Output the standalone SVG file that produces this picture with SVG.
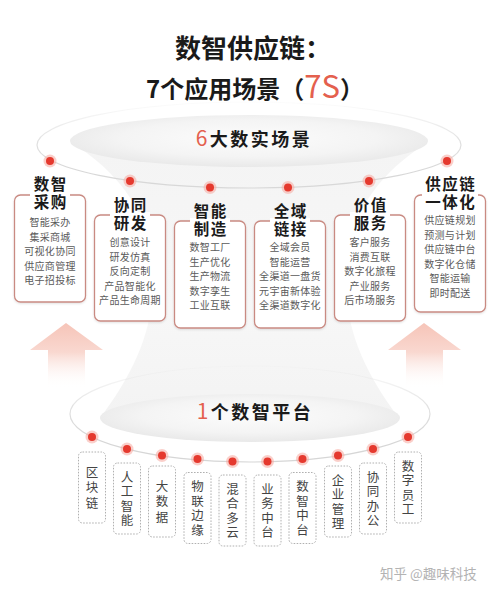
<svg xmlns="http://www.w3.org/2000/svg" xmlns:xlink="http://www.w3.org/1999/xlink" width="500" height="594" viewBox="0 0 500 594">
<style>
text{font-family:"Noto Sans CJK SC","Noto Sans",sans-serif}
.h1{font-size:26px;font-weight:700;fill:#1a1a1a}
.h2{font-size:24px;font-weight:700;fill:#1a1a1a}
.red{fill:#e4604e}
.sec{font-size:18px;font-weight:700;fill:#1a1a1a;letter-spacing:2.5px}
.ct{font-size:15.5px;font-weight:700;fill:#1a1a1a;text-anchor:middle;letter-spacing:1.5px}
.it{font-size:10px;fill:#5a5a5a;text-anchor:middle;letter-spacing:0.3px}
.card{fill:#fff;stroke:#c98a82;stroke-width:1.3}
.pb{fill:#fff;stroke:#b0b0b0;stroke-width:1;stroke-dasharray:1.6 1.4}
.pt{font-size:12.5px;fill:#444;text-anchor:middle;writing-mode:vertical-rl;letter-spacing:2px}
.p3{letter-spacing:3px}
.wm{font-size:13.5px;fill:#b3b3b3}
</style>
<defs>
<radialGradient id="disc" cx="0.5" cy="0.45" r="0.55">
<stop offset="0" stop-color="#fcfcfc"/>
<stop offset="0.65" stop-color="#f4f4f4"/>
<stop offset="1" stop-color="#e9e9e9"/>
</radialGradient>
<linearGradient id="funnel" x1="0" y1="0" x2="0" y2="1">
<stop offset="0" stop-color="#f4f4f4"/>
<stop offset="0.6" stop-color="#f7f7f7"/>
<stop offset="1" stop-color="#f3f3f3"/>
</linearGradient>
<linearGradient id="ringTop" gradientUnits="userSpaceOnUse" x1="0" y1="102" x2="0" y2="170">
<stop offset="0" stop-color="#e2e2e2" stop-opacity="0.1"/>
<stop offset="0.6" stop-color="#dcdcdc" stop-opacity="0.9"/>
<stop offset="1" stop-color="#d8d8d8"/>
</linearGradient>
<linearGradient id="ringBot" gradientUnits="userSpaceOnUse" x1="0" y1="366" x2="0" y2="440">
<stop offset="0" stop-color="#e2e2e2" stop-opacity="0.1"/>
<stop offset="0.6" stop-color="#dcdcdc" stop-opacity="0.9"/>
<stop offset="1" stop-color="#d6d6d6"/>
</linearGradient>
<linearGradient id="arrow" gradientUnits="userSpaceOnUse" x1="0" y1="323" x2="0" y2="388">
<stop offset="0" stop-color="#f6c4b8"/>
<stop offset="0.45" stop-color="#f9d8d0"/>
<stop offset="1" stop-color="#ffffff" stop-opacity="0"/>
</linearGradient>
<filter id="sh" x="-20%" y="-20%" width="140%" height="140%">
<feDropShadow dx="0" dy="1" stdDeviation="1.2" flood-color="#000" flood-opacity="0.12"/>
</filter>
<g id="dot">
<circle r="6.5" fill="#f6a89e" opacity="0.55"/>
<circle r="4" fill="#e5392e"/>
</g>
</defs>
<rect width="500" height="594" fill="#fff"/>

<g id="background">
<path d="M80 148 C140 190 158 240 152 300 C148 345 125 385 100 418 L399 418 C374 385 351 345 347 300 C341 240 359 190 419 148 Z" fill="url(#funnel)"/>
<ellipse cx="249" cy="141" rx="179" ry="26" fill="url(#disc)"/>
<ellipse cx="250" cy="418" rx="150" ry="24" fill="url(#disc)"/>
<path d="M66 323 L103 350 L85 350 L85 388 L48 388 L48 350 L30 350 Z" fill="url(#arrow)"/>
<path d="M424 323 L461 350 L443 350 L443 388 L406 388 L406 350 L388 350 Z" fill="url(#arrow)"/>
</g>

<g id="title">
<text class="h1" x="253" y="58" text-anchor="middle">数智供应链：</text>
<text class="h2" x="255" y="98" text-anchor="middle">7个应用场景（<tspan class="red" font-size="31" font-weight="400">7S</tspan>）</text>
<text class="sec" x="254" y="146" text-anchor="middle"><tspan class="red" font-size="21" font-weight="400">6</tspan>大数实场景</text>
<text class="sec" x="255" y="419" text-anchor="middle"><tspan class="red" font-size="21" font-weight="400">1</tspan>个数智平台</text>
</g>

<g id="connectors">
<ellipse cx="249" cy="145" rx="212" ry="43" fill="none" stroke="url(#ringTop)" stroke-width="1.2"/>
<ellipse cx="250" cy="414" rx="180" ry="48" fill="none" stroke="url(#ringBot)" stroke-width="1.2"/>
<use xlink:href="#dot" x="50" y="161"/>
<use xlink:href="#dot" x="130" y="181"/>
<use xlink:href="#dot" x="210" y="187.5"/>
<use xlink:href="#dot" x="288" y="187.5"/>
<use xlink:href="#dot" x="369" y="181"/>
<use xlink:href="#dot" x="447" y="161"/>
<use xlink:href="#dot" x="92" y="437"/>
<use xlink:href="#dot" x="127" y="449"/>
<use xlink:href="#dot" x="162" y="455.5"/>
<use xlink:href="#dot" x="197.5" y="459"/>
<use xlink:href="#dot" x="232.5" y="461.5"/>
<use xlink:href="#dot" x="267.5" y="461.5"/>
<use xlink:href="#dot" x="302.5" y="459"/>
<use xlink:href="#dot" x="338" y="455.5"/>
<use xlink:href="#dot" x="373" y="449"/>
<use xlink:href="#dot" x="408" y="437"/>
</g>

<g id="card1">
<rect class="card" x="14.5" y="195" width="71" height="107" rx="6" filter="url(#sh)"/>
<rect x="30" y="192" width="40" height="6" fill="#fff"/>
<text class="ct" x="50.75" y="190">数智</text>
<text class="ct" x="50.75" y="208">采购</text>
<text class="it" x="50" y="226">智能采办</text>
<text class="it" x="50" y="240.5">集采商城</text>
<text class="it" x="50" y="255">可视化协同</text>
<text class="it" x="50" y="269.5">供应商管理</text>
<text class="it" x="50" y="284">电子招投标</text>
</g>

<g id="card2">
<rect class="card" x="94.5" y="215" width="71" height="106" rx="6" filter="url(#sh)"/>
<rect x="110" y="212" width="40" height="6" fill="#fff"/>
<text class="ct" x="130.75" y="211">协同</text>
<text class="ct" x="130.75" y="229">研发</text>
<text class="it" x="130" y="246">创意设计</text>
<text class="it" x="130" y="260.5">研发仿真</text>
<text class="it" x="130" y="275">反向定制</text>
<text class="it" x="130" y="289.5">产品智能化</text>
<text class="it" x="130" y="304">产品生命周期</text>
</g>

<g id="card3">
<rect class="card" x="174.5" y="221" width="71" height="107" rx="6" filter="url(#sh)"/>
<rect x="190" y="218" width="40" height="6" fill="#fff"/>
<text class="ct" x="210.75" y="217">智能</text>
<text class="ct" x="210.75" y="235">制造</text>
<text class="it" x="210" y="251">数智工厂</text>
<text class="it" x="210" y="265.5">生产优化</text>
<text class="it" x="210" y="280">生产物流</text>
<text class="it" x="210" y="294.5">数字孪生</text>
<text class="it" x="210" y="309">工业互联</text>
</g>

<g id="card4">
<rect class="card" x="254.5" y="221" width="71" height="107" rx="6" filter="url(#sh)"/>
<rect x="270" y="218" width="40" height="6" fill="#fff"/>
<text class="ct" x="290.75" y="217">全域</text>
<text class="ct" x="290.75" y="235">链接</text>
<text class="it" x="290" y="251">全域会员</text>
<text class="it" x="290" y="265.5">智能运营</text>
<text class="it" x="290" y="280">全渠道一盘货</text>
<text class="it" x="290" y="294.5">元宇宙新体验</text>
<text class="it" x="290" y="309">全渠道数字化</text>
</g>

<g id="card5">
<rect class="card" x="334.5" y="215" width="71" height="106" rx="6" filter="url(#sh)"/>
<rect x="350" y="212" width="40" height="6" fill="#fff"/>
<text class="ct" x="370.75" y="211">价值</text>
<text class="ct" x="370.75" y="229">服务</text>
<text class="it" x="370" y="246">客户服务</text>
<text class="it" x="370" y="260.5">消费互联</text>
<text class="it" x="370" y="275">数字化旅程</text>
<text class="it" x="370" y="289.5">产业服务</text>
<text class="it" x="370" y="304">后市场服务</text>
</g>

<g id="card6">
<rect class="card" x="414.5" y="195" width="71" height="117" rx="6" filter="url(#sh)"/>
<rect x="422" y="192" width="56" height="6" fill="#fff"/>
<text class="ct" x="450.75" y="190">供应链</text>
<text class="ct" x="450.75" y="208">一体化</text>
<text class="it" x="450" y="224">供应链规划</text>
<text class="it" x="450" y="238.5">预测与计划</text>
<text class="it" x="450" y="253">供应链中台</text>
<text class="it" x="450" y="267.5">数字化仓储</text>
<text class="it" x="450" y="282">智能运输</text>
<text class="it" x="450" y="296.5">即时配送</text>
</g>

<g id="p1"><rect class="pb" x="78.5" y="452" width="27" height="71" rx="4"/>
<text class="pt p3" x="92" y="489">区块链</text></g>
<g id="p2"><rect class="pb" x="113.5" y="463" width="27" height="71" rx="4"/>
<text class="pt" x="127" y="499.5">人工智能</text></g>
<g id="p3"><rect class="pb" x="148.5" y="466" width="27" height="71" rx="4"/>
<text class="pt p3" x="162" y="503">大数据</text></g>
<g id="p4"><rect class="pb" x="184" y="472.5" width="27" height="71" rx="4"/>
<text class="pt" x="197.5" y="509">物联边缘</text></g>
<g id="p5"><rect class="pb" x="219" y="475" width="27" height="71" rx="4"/>
<text class="pt" x="232.5" y="511.5">混合多云</text></g>
<g id="p6"><rect class="pb" x="254" y="475" width="27" height="71" rx="4"/>
<text class="pt" x="267.5" y="511.5">业务中台</text></g>
<g id="p7"><rect class="pb" x="289" y="472.5" width="27" height="71" rx="4"/>
<text class="pt" x="302.5" y="509">数智中台</text></g>
<g id="p8"><rect class="pb" x="324.5" y="466" width="27" height="71" rx="4"/>
<text class="pt" x="338" y="502.5">企业管理</text></g>
<g id="p9"><rect class="pb" x="359.5" y="463" width="27" height="71" rx="4"/>
<text class="pt" x="373" y="499.5">协同办公</text></g>
<g id="p10"><rect class="pb" x="394.5" y="452" width="27" height="71" rx="4"/>
<text class="pt" x="408" y="488.5">数字员工</text></g>

<text class="wm" x="380" y="579">知乎 @趣味科技</text>
</svg>
